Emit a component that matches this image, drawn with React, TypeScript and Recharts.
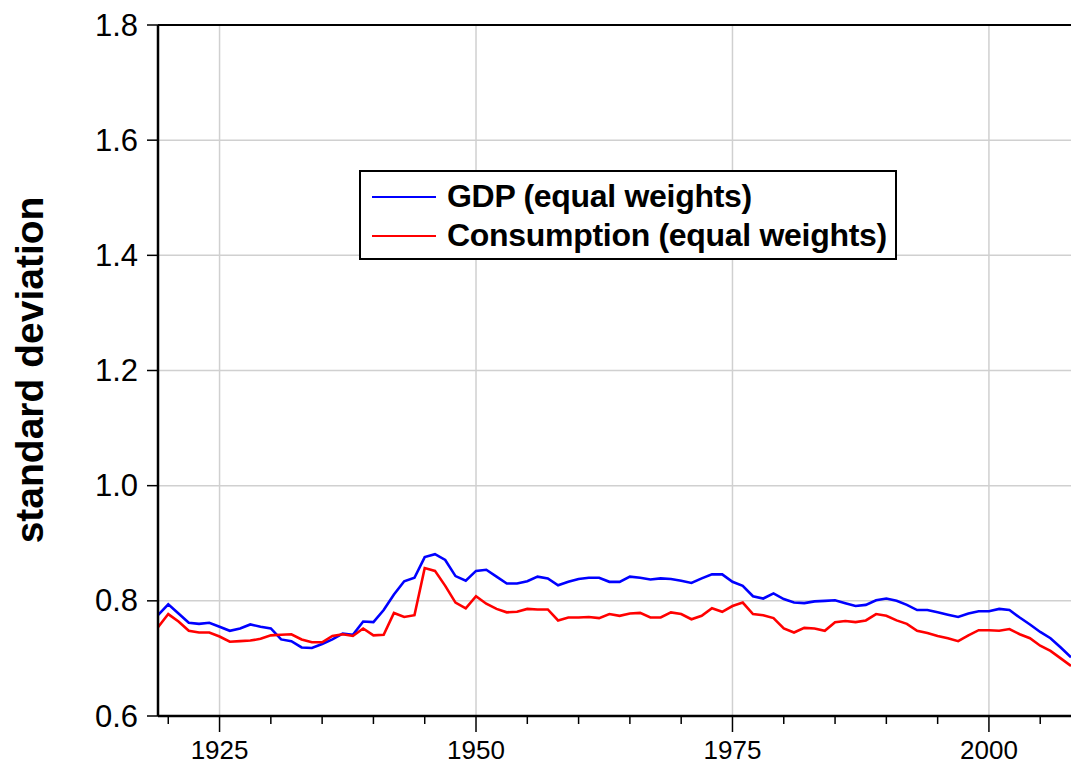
import { LineChart, Line, XAxis, YAxis, CartesianGrid, ReferenceLine, Legend } from 'recharts';

const years = Array.from({ length: 90 }, (_, i) => 1919 + i);

const gdpEqual = [
  0.775, 0.794, 0.778, 0.762, 0.760, 0.762, 0.755, 0.748, 0.752, 0.759,
  0.755, 0.752, 0.733, 0.730, 0.719, 0.718, 0.725, 0.733, 0.743, 0.741,
  0.764, 0.763, 0.784, 0.811, 0.834, 0.840, 0.876, 0.881, 0.871, 0.843,
  0.835, 0.852, 0.854, 0.842, 0.830, 0.830, 0.834, 0.842, 0.839, 0.827,
  0.833, 0.838, 0.840, 0.840, 0.833, 0.833, 0.842, 0.840, 0.837, 0.839,
  0.838, 0.835, 0.831, 0.839, 0.846, 0.846, 0.833, 0.826, 0.808, 0.804,
  0.813, 0.803, 0.797, 0.796, 0.799, 0.800, 0.801, 0.796, 0.791, 0.793,
  0.801, 0.804, 0.800, 0.793, 0.784, 0.784, 0.780, 0.776, 0.772, 0.778,
  0.782, 0.782, 0.786, 0.784, 0.771, 0.759, 0.746, 0.735, 0.719, 0.702,
];

const consEqual = [
  0.754, 0.777, 0.764, 0.748, 0.745, 0.745, 0.738, 0.729, 0.730, 0.731,
  0.734, 0.740, 0.741, 0.742, 0.733, 0.728, 0.728, 0.739, 0.742, 0.739,
  0.752, 0.740, 0.741, 0.779, 0.772, 0.775, 0.857, 0.852, 0.826, 0.797,
  0.787, 0.808, 0.795, 0.786, 0.780, 0.781, 0.786, 0.785, 0.785, 0.766,
  0.771, 0.771, 0.772, 0.770, 0.777, 0.774, 0.778, 0.779, 0.771, 0.771,
  0.780, 0.777, 0.768, 0.774, 0.787, 0.781, 0.791, 0.797, 0.777, 0.775,
  0.770, 0.752, 0.745, 0.753, 0.752, 0.748, 0.763, 0.765, 0.763, 0.766,
  0.777, 0.774, 0.766, 0.760, 0.748, 0.744, 0.739, 0.735, 0.730, 0.740,
  0.749, 0.749, 0.748, 0.751, 0.742, 0.735, 0.722, 0.713, 0.700, 0.687,
];

const seriesNames = ['GDP (equal weights)', 'Consumption (equal weights)'];
const xTicks = [1920, 1925, 1930, 1935, 1940, 1945, 1950, 1955, 1960, 1965, 1970, 1975, 1980, 1985, 1990, 1995, 2000, 2005];
const majorYears = [1925, 1950, 1975, 2000];
const yTicks = [0.6, 0.8, 1.0, 1.2, 1.4, 1.6, 1.8];

const data = years.map((year, i) => ({ year, gdp: gdpEqual[i], cons: consEqual[i] }));

const FONT = '"Liberation Sans", Arial, sans-serif';

const XTick = (props: any) => {
  const { x, y, payload } = props;
  const major = majorYears.includes(payload.value);
  return (
    <g>
      <line x1={x} x2={x} y1={y} y2={y + (major ? 16 : 8)} stroke="#000" strokeWidth={1.5} />
      {major && (
        <text x={x} y={y + 34} textAnchor="middle" dominantBaseline="central" fontSize={26} fontFamily={FONT} fill="#000">
          {payload.value}
        </text>
      )}
    </g>
  );
};

const YTick = (props: any) => {
  const { x, y, payload } = props;
  return (
    <g>
      <line x1={x - 11} x2={x} y1={y} y2={y} stroke="#000" strokeWidth={1.5} />
      <text x={x - 20} y={y} textAnchor="end" dominantBaseline="central" fontSize={31} fontFamily={FONT} fill="#000">
        {payload.value.toFixed(1)}
      </text>
    </g>
  );
};

const YTitle = () => (
  <text
    x={29}
    y={370}
    transform="rotate(-90, 29, 370)"
    textAnchor="middle"
    dominantBaseline="central"
    fontSize={39}
    fontWeight="bold"
    fontFamily={FONT}
    fill="#000"
  >
    standard deviation
  </text>
);

const renderLegend = (props: any) => {
  const payload = [...(props.payload || [])].sort(
    (a: any, b: any) => seriesNames.indexOf(a.value) - seriesNames.indexOf(b.value)
  );
  return (
    <div
      style={{
        border: '2px solid #000',
        background: '#fff',
        width: 538,
        height: 90,
        boxSizing: 'border-box',
        paddingTop: 5,
        fontFamily: FONT,
      }}
    >
      {payload.map((entry: any) => (
        <div key={entry.value} style={{ display: 'flex', alignItems: 'center', height: 39 }}>
          <span style={{ display: 'inline-block', width: 64, height: 2, background: entry.color, marginLeft: 11, marginRight: 11 }} />
          <span style={{ fontSize: 32, fontWeight: 'bold', color: '#000', whiteSpace: 'nowrap', letterSpacing: -0.3 }}>{entry.value}</span>
        </div>
      ))}
    </div>
  );
};

export default function App() {
  return (
    <div style={{ position: 'absolute', left: 0, top: 0, width: 1071, height: 769, background: '#fff' }}>
      <LineChart width={1071} height={769} data={data} margin={{ top: 25, right: 0, bottom: 0, left: 0 }}>
        <CartesianGrid vertical={false} stroke="#d0d0d0" strokeWidth={1.5} />
        {majorYears.map((yr) => (
          <ReferenceLine key={yr} x={yr} stroke="#d0d0d0" strokeWidth={1.5} />
        ))}
        <ReferenceLine y={1.8} stroke="#000" strokeWidth={2} />
        <XAxis
          dataKey="year"
          type="number"
          domain={[1919, 2008]}
          ticks={xTicks}
          interval={0}
          height={53}
          tickSize={0}
          tickMargin={0}
          tickLine={false}
          axisLine={{ stroke: '#000', strokeWidth: 2.5 }}
          tick={<XTick />}
        />
        <YAxis
          type="number"
          domain={[0.6, 1.8]}
          ticks={yTicks}
          interval={0}
          width={158}
          tickSize={0}
          tickMargin={0}
          tickLine={false}
          axisLine={{ stroke: '#000', strokeWidth: 2.5 }}
          tick={<YTick />}
          label={<YTitle />}
        />
        <Legend
          layout="horizontal"
          verticalAlign="middle"
          align="center"
          content={renderLegend}
          wrapperStyle={{ position: 'absolute', left: 359, top: 170, width: 538, height: 90 }}
        />
        <Line
          type="linear"
          dataKey="gdp"
          name={seriesNames[0]}
          stroke="#0000ff"
          strokeWidth={2.6}
          dot={false}
          isAnimationActive={false}
        />
        <Line
          type="linear"
          dataKey="cons"
          name={seriesNames[1]}
          stroke="#ff0000"
          strokeWidth={2.6}
          dot={false}
          isAnimationActive={false}
        />
      </LineChart>
    </div>
  );
}
